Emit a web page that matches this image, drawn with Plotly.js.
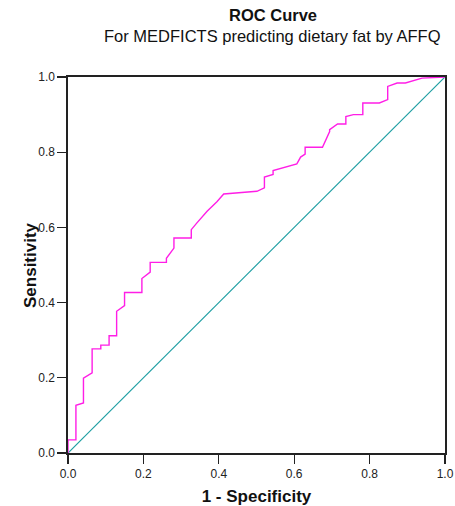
<!DOCTYPE html>
<html>
<head>
<meta charset="utf-8">
<script src="https://cdn.plot.ly/plotly-3.0.1.min.js"></script>
<style>html,body{margin:0;padding:0;background:#fff;}#chart{width:455px;height:506px;}</style>
</head>
<body>
<div id="chart"></div>
<script>
// ROC curve points (1 - Specificity, Sensitivity)
const fpr = [0, 0, 0.021, 0.021, 0.041, 0.041, 0.064, 0.064, 0.087, 0.087, 0.109, 0.109, 0.129, 0.129, 0.150, 0.150, 0.196, 0.196, 0.218, 0.218, 0.261, 0.261, 0.281, 0.281, 0.327, 0.327, 0.342, 0.369, 0.395, 0.413, 0.501, 0.521, 0.521, 0.544, 0.544, 0.607, 0.617, 0.629, 0.629, 0.675, 0.694, 0.694, 0.715, 0.737, 0.737, 0.757, 0.782, 0.782, 0.826, 0.848, 0.848, 0.873, 0.895, 0.939, 1.0];
const sens = [0, 0.035, 0.035, 0.127, 0.133, 0.199, 0.213, 0.277, 0.277, 0.287, 0.287, 0.312, 0.312, 0.377, 0.392, 0.427, 0.427, 0.464, 0.481, 0.507, 0.507, 0.518, 0.545, 0.572, 0.572, 0.594, 0.612, 0.643, 0.668, 0.689, 0.696, 0.705, 0.734, 0.741, 0.751, 0.769, 0.787, 0.795, 0.813, 0.813, 0.855, 0.860, 0.875, 0.875, 0.895, 0.900, 0.900, 0.931, 0.931, 0.940, 0.975, 0.984, 0.984, 0.997, 1.0];
const refX = [0, 1];
const refY = [0, 1];
const tickVals = [0, 0.2, 0.4, 0.6, 0.8, 1.0];
const tickText = ['0.0', '0.2', '0.4', '0.6', '0.8', '1.0'];
const titleMain = 'ROC Curve';
const titleSub = 'For MEDFICTS predicting dietary fat by AFFQ';
const xTitle = '1 - Specificity';
const yTitle = 'Sensitivity';

const FONT = 'Liberation Sans, Arial, sans-serif';

const traces = [
  {x: refX, y: refY, type: 'scatter', mode: 'lines', line: {color: '#1f9fa3', width: 1.2}, hoverinfo: 'skip'},
  {x: fpr, y: sens, type: 'scatter', mode: 'lines', line: {color: '#ff1ee6', width: 1.4}}
];

const axisCommon = {
  range: [0, 1], tickvals: tickVals, ticktext: tickText,
  ticks: 'outside', ticklen: 9, tickwidth: 1.2, tickcolor: '#222',
  showline: true, linecolor: '#222', linewidth: 1.6, mirror: true,
  showgrid: false, zeroline: false,
  tickfont: {family: FONT, size: 12, color: '#222'}
};

const W = 455, H = 506, mL = 68, mR = 10, mT = 77, mB = 53;
const plotH = H - mT - mB;
function pyToPaper(py) { return (H - mB - py) / plotH; }
function pxToPaper(px) { return (px - mL) / (W - mL - mR); }

const layout = {
  width: W, height: H,
  margin: {l: mL, r: mR, t: mT, b: mB},
  paper_bgcolor: '#fff', plot_bgcolor: '#fff',
  showlegend: false,
  font: {family: FONT, color: '#111'},
  annotations: [
    {text: '<b>' + titleMain + '</b>', xref: 'paper', yref: 'paper', x: pxToPaper(272.5), y: pyToPaper(15),
     xanchor: 'center', yanchor: 'middle', showarrow: false, font: {family: FONT, size: 16.5, color: '#111'}},
    {text: titleSub, xref: 'paper', yref: 'paper', x: pxToPaper(272.5), y: pyToPaper(36),
     xanchor: 'center', yanchor: 'middle', showarrow: false, font: {family: FONT, size: 16.5, color: '#111'}},
    {text: '<b>' + yTitle + '</b>', xref: 'paper', yref: 'paper', x: pxToPaper(30), y: pyToPaper(265),
     xanchor: 'center', yanchor: 'middle', textangle: -90, showarrow: false, font: {family: FONT, size: 17, color: '#111'}}
  ],
  xaxis: Object.assign({}, axisCommon, {
    title: {text: '<b>' + xTitle + '</b>', font: {family: FONT, size: 17, color: '#111'}, standoff: 10}
  }),
  yaxis: Object.assign({}, axisCommon)
};

Plotly.newPlot('chart', traces, layout, {displayModeBar: false, staticPlot: true});
</script>
</body>
</html>
